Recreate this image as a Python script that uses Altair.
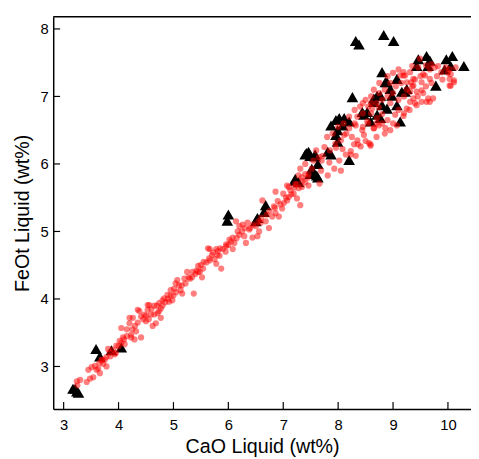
import altair as alt
import pandas as pd

# ---- data ----
red_low = [
    (3.24, 2.78), (3.42, 2.77), (3.48, 2.82), (3.54, 2.84), (3.45, 2.95), (3.51, 2.99),
    (3.57, 3.01), (3.63, 2.97), (3.66, 2.90), (3.72, 3.04), (3.78, 3.00), (3.69, 3.09),
    (3.78, 3.14), (3.81, 3.26), (3.84, 3.21), (3.93, 3.18), (3.96, 3.31), (4.02, 3.38),
    (4.08, 3.43), (4.11, 3.33), (4.05, 3.57), (4.20, 3.64), (4.23, 3.47), (4.29, 3.40),
    (4.32, 3.52), (4.41, 3.43), (4.38, 3.82), (4.41, 3.74), (4.50, 3.67), (4.56, 3.91),
    (4.59, 3.77), (4.62, 3.60), (4.68, 3.64), (4.74, 3.82), (4.77, 3.72), (4.53, 3.84),
    (4.47, 3.77), (4.26, 3.72), (3.25, 2.72), (3.30, 2.80), (3.60, 2.95), (3.65, 3.05),
    (3.70, 3.10), (3.75, 3.10), (3.85, 3.15), (3.90, 3.25), (3.95, 3.20), (4.00, 3.30),
    (4.05, 3.35), (4.10, 3.40), (4.15, 3.45), (4.15, 3.55), (4.25, 3.55), (4.30, 3.60),
    (4.35, 3.65), (4.45, 3.70), (4.50, 3.75), (4.55, 3.70), (4.60, 3.85), (4.65, 3.90),
    (4.70, 3.90), (4.80, 3.90), (4.85, 3.95), (4.90, 4.00), (4.95, 4.05), (4.53, 3.91),
    (4.65, 3.77), (4.71, 3.79), (4.77, 3.86), (4.74, 3.94), (4.80, 3.98), (4.83, 4.01),
    (4.89, 4.06), (4.92, 3.96), (4.98, 3.98), (4.95, 4.13), (4.20, 3.72), (4.35, 3.84),
    (4.23, 3.43),
]
red_mid = [
    (5.01, 4.15), (5.07, 4.28), (5.04, 4.23), (5.13, 4.13), (5.16, 4.08), (5.22, 4.23),
    (5.25, 4.40), (5.34, 4.32), (5.37, 4.08), (5.40, 4.37), (5.42, 4.42), (5.48, 4.40),
    (5.45, 4.49), (5.54, 4.45), (5.60, 4.54), (5.66, 4.57), (5.75, 4.59), (5.78, 4.52),
    (5.87, 4.45), (5.72, 4.69), (5.81, 4.71), (5.90, 4.74), (5.96, 4.81), (6.02, 4.88),
    (6.08, 4.74), (5.63, 4.75), (5.52, 4.32), (5.28, 4.32), (5.00, 4.05), (5.05, 4.10),
    (5.10, 4.20), (5.15, 4.20), (5.20, 4.30), (5.30, 4.30), (5.35, 4.40), (5.45, 4.40),
    (5.50, 4.50), (5.55, 4.55), (5.65, 4.60), (5.70, 4.65), (5.80, 4.65), (5.85, 4.75),
    (5.95, 4.70), (6.00, 4.80), (6.05, 4.85), (5.66, 4.74), (5.78, 4.74), (5.84, 4.64),
    (5.96, 4.78), (6.08, 4.91), (6.11, 4.83), (6.17, 5.00), (6.20, 5.08), (6.26, 5.10),
    (6.29, 4.93), (6.14, 5.15), (6.35, 5.13), (6.38, 5.03), (6.44, 4.91), (6.53, 4.93),
    (6.56, 5.00), (6.50, 5.08), (6.59, 5.13), (6.74, 5.05), (6.68, 5.15), (6.80, 5.22),
    (6.86, 5.27), (6.83, 5.37), (6.92, 5.22), (6.98, 5.34), (7.01, 5.42), (7.07, 5.46),
    (7.10, 5.51), (7.13, 5.61), (7.19, 5.56), (7.25, 5.49), (7.31, 5.39), (7.28, 5.64),
    (7.34, 5.66), (7.40, 5.73), (7.46, 5.68), (7.31, 5.93), (7.40, 5.85), (7.34, 5.80),
    (7.10, 5.66), (7.00, 5.56), (6.86, 5.59), (7.07, 5.68), (6.62, 5.46), (6.32, 4.83),
    (6.15, 4.90), (6.20, 4.95), (6.25, 5.00), (6.30, 5.05), (6.40, 5.05), (6.45, 5.10),
    (6.55, 5.15), (6.60, 5.20), (6.70, 5.25), (6.75, 5.30), (6.85, 5.35), (6.90, 5.45),
    (6.95, 5.40), (7.05, 5.50), (7.15, 5.55), (7.20, 5.65), (7.25, 5.70), (7.35, 5.75),
    (7.45, 5.80), (7.28, 5.83), (7.46, 5.85), (7.40, 6.00), (7.22, 5.70),
]
red_high = [
    (8.44, 6.50), (8.47, 6.43), (8.59, 6.29), (8.50, 6.34), (8.41, 6.26), (8.29, 6.29),
    (8.23, 6.19), (8.32, 6.12), (8.08, 6.22), (8.14, 6.14), (8.02, 6.05), (7.84, 6.02),
    (7.93, 5.93), (8.05, 5.90), (7.81, 5.83), (7.66, 5.71), (7.69, 5.90), (7.55, 6.05),
    (7.52, 5.93), (7.72, 6.12), (7.96, 6.24), (8.11, 6.43), (8.20, 6.53), (8.32, 6.57),
    (8.53, 6.63), (8.71, 6.68), (8.65, 6.53), (8.74, 6.57), (8.62, 6.82), (8.74, 6.84),
    (8.80, 6.74), (9.49, 7.56), (9.31, 7.36), (9.19, 7.36), (9.13, 7.31), (9.55, 7.33),
    (9.67, 7.40), (9.76, 7.43), (9.88, 7.36), (9.82, 7.45), (10.03, 7.26), (10.05, 7.16),
    (10.11, 7.24), (10.03, 7.40), (10.14, 7.43), (9.52, 7.21), (9.67, 7.26), (9.52, 7.09),
    (9.64, 6.97), (9.52, 6.92), (9.37, 6.97), (9.43, 7.07), (9.40, 6.90), (9.31, 6.92),
    (9.25, 6.82), (9.31, 7.07), (9.37, 7.16), (9.25, 7.21), (9.19, 7.31), (9.37, 7.26),
    (9.58, 7.31), (9.04, 6.73), (9.19, 6.71), (9.07, 6.57), (8.86, 6.53), (8.65, 6.53),
    (8.30, 6.60), (8.35, 6.70), (8.40, 6.85), (8.45, 6.90), (8.50, 6.95), (8.55, 6.85),
    (8.60, 7.00), (8.65, 7.10), (8.70, 6.90), (8.75, 7.05), (8.80, 6.95), (8.85, 7.10),
    (8.90, 7.00), (8.95, 6.90), (9.00, 7.05), (9.05, 7.15), (9.10, 6.95), (9.15, 7.20),
    (9.20, 7.00), (9.25, 7.10), (8.90, 7.30), (8.95, 7.20), (9.00, 7.35), (9.10, 7.40),
    (8.75, 7.20), (8.60, 6.75), (8.55, 6.60), (8.45, 6.55), (8.70, 6.60), (8.80, 6.60),
    (8.90, 6.65), (9.00, 6.60), (8.95, 6.50), (8.85, 6.45), (8.70, 6.40), (8.35, 6.35),
    (8.25, 6.40), (8.15, 6.45), (8.05, 6.35), (7.95, 6.30), (7.85, 6.20), (7.75, 6.25),
    (7.70, 6.05), (7.60, 6.20), (7.65, 6.10), (7.80, 6.40), (7.90, 6.45), (8.00, 6.55),
    (8.10, 6.60), (8.20, 6.70), (8.30, 6.80), (8.45, 6.75), (8.60, 6.90), (9.40, 7.25),
    (9.50, 7.30), (9.60, 7.15), (9.70, 7.20), (9.80, 7.30), (9.90, 7.25), (10.00, 7.35),
    (9.45, 7.00), (9.55, 7.05), (9.30, 6.80), (9.20, 6.75), (9.10, 6.80), (9.35, 7.15),
    (8.59, 6.27), (8.56, 6.31), (9.43, 6.87), (9.61, 6.92), (9.73, 6.97), (8.36, 6.29),
    (8.23, 6.14), (9.22, 7.31), (9.33, 7.21), (9.46, 7.43), (9.35, 7.45), (9.60, 7.46),
    (9.70, 7.48), (9.96, 7.43), (10.05, 7.33), (10.11, 7.21), (10.03, 7.16), (9.67, 6.92),
]
triangles = [
    (3.17, 2.67), (3.21, 2.67), (3.24, 2.63), (3.27, 2.61), (3.59, 3.26), (3.66, 3.15),
    (3.87, 3.24), (4.05, 3.28), (6.00, 5.25), (5.98, 5.16), (6.53, 5.20), (6.65, 5.29),
    (6.68, 5.39), (6.50, 5.15), (7.22, 5.78), (7.28, 5.73), (7.40, 6.14), (7.49, 6.12),
    (7.52, 5.93), (7.55, 5.85), (7.42, 6.16), (7.58, 6.11), (7.49, 5.85), (7.61, 5.83),
    (7.22, 5.75), (8.26, 6.99), (8.44, 6.77), (8.47, 6.73), (8.65, 6.97), (8.77, 7.01),
    (7.87, 6.57), (7.96, 6.65), (8.02, 6.68), (8.11, 6.68), (8.08, 6.57), (8.20, 6.63),
    (7.99, 6.50), (7.96, 6.43), (7.46, 6.18), (7.58, 6.14), (7.81, 6.18), (7.87, 6.14),
    (8.20, 6.06), (7.63, 6.00), (7.63, 5.80), (7.99, 6.33), (8.83, 7.91), (9.01, 7.82),
    (8.80, 7.36), (9.46, 7.55), (9.61, 7.60), (9.67, 7.53), (9.43, 7.45), (9.64, 7.45),
    (9.97, 7.55), (10.08, 7.60), (10.05, 7.45), (10.29, 7.45), (9.78, 7.16), (8.89, 7.21),
    (9.07, 7.26), (9.22, 7.07), (9.13, 6.63), (8.71, 7.01), (8.65, 6.92), (8.89, 6.82),
    (9.07, 6.87), (8.77, 6.68), (8.53, 6.77), (8.98, 7.01), (8.59, 6.63), (9.94, 7.40),
    (8.32, 7.82), (8.38, 7.77), (8.95, 7.11), (9.16, 7.07), (9.25, 7.11), (8.86, 7.21),
    (8.80, 6.87), (8.71, 6.73),
]
x_ticks = [3, 4, 5, 6, 7, 8, 9, 10]
y_ticks = [3, 4, 5, 6, 7, 8]
x_domain = [2.81, 10.42]
y_domain = [2.37, 8.18]
x_title = "CaO Liquid (wt%)"
y_title = "FeOt Liquid (wt%)"

W, H = 425, 399
FONT = "Liberation Sans"

red = pd.DataFrame(red_low + red_mid + red_high, columns=["cao", "feo"])
tri = pd.DataFrame(triangles, columns=["cao", "feo"])
xt = pd.DataFrame({"cao": x_ticks})
yt = pd.DataFrame({"feo": y_ticks})

xs = alt.Scale(domain=x_domain, nice=False, zero=False)
ys = alt.Scale(domain=y_domain, nice=False, zero=False)

common = dict(ticks=False, tickSize=0, grid=False, domainColor="black", domainWidth=1.5,
              labelFont=FONT, labelFontSize=15, labelColor="black",
              titleFont=FONT, titleFontSize=20, titleFontWeight="normal", titleColor="black")
xaxis = alt.Axis(values=x_ticks, labelPadding=9, titlePadding=4, title=x_title, **common)
yaxis = alt.Axis(values=y_ticks, labelPadding=5, titlePadding=8, title=y_title, **common)

X = alt.X("cao:Q", scale=xs, axis=xaxis)
Y = alt.Y("feo:Q", scale=ys, axis=yaxis)

tri_layer = alt.Chart(tri).mark_point(shape="triangle-up", filled=True, color="black",
                                      size=140, opacity=1).encode(x=X, y=Y)
red_layer = alt.Chart(red).mark_circle(color="red", opacity=0.5, size=40).encode(x=X, y=Y)
xtick_layer = alt.Chart(xt).mark_rule(color="black", strokeWidth=1.2).encode(
    x=X, y=alt.value(H), y2=alt.value(H - 7))
ytick_layer = alt.Chart(yt).mark_rule(color="black", strokeWidth=1.2).encode(
    y=Y, x=alt.value(0), x2=alt.value(7))
top_layer = alt.Chart(pd.DataFrame({"a": [0]})).mark_rule(color="black", strokeWidth=1.5).encode(
    x=alt.value(0), x2=alt.value(W), y=alt.value(0))

chart = alt.layer(tri_layer, red_layer, xtick_layer, ytick_layer, top_layer).properties(
    width=W, height=H,
    autosize=alt.AutoSizeParams(type="none"),
    padding={"left": 46, "top": 5, "right": 0, "bottom": 51},
).configure_view(stroke=None)

chart.save("out.html", embed_options={"renderer": "svg", "actions": False})
